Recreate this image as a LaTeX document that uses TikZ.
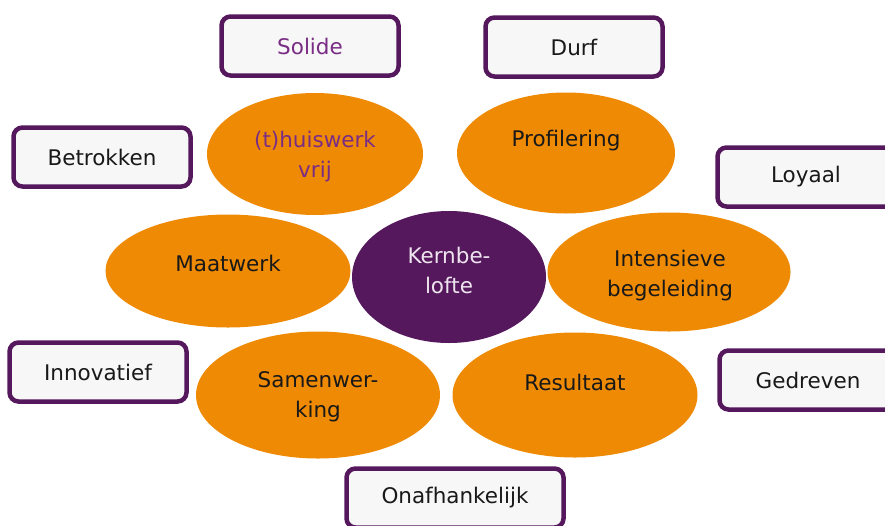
\documentclass[tikz,border=0pt]{standalone}
\usepackage{fontspec}
\setmainfont{DejaVu Sans}
\usetikzlibrary{shapes.geometric}
\definecolor{kernpaars}{HTML}{55185D}
\definecolor{tekstpaars}{HTML}{7A2D85}
\definecolor{oranje}{HTML}{EF8A04}
\definecolor{boxgrijs}{HTML}{F7F7F7}
\definecolor{lichttekst}{HTML}{EEE4EE}
\tikzset{
  waarde/.style={draw=kernpaars, line width=4.5pt, rounded corners=9pt, fill=boxgrijs,
    minimum width=177pt, minimum height=59pt, inner sep=0pt,
    font=\fontsize{21.5}{30}\selectfont, text=black!90},
  blad/.style={ellipse, fill=oranje, inner sep=0pt},
  bladtekst/.style={align=center, inner sep=0pt,
    font=\fontsize{21.5}{30}\selectfont, text=black!90},
}
\begin{document}
\begin{tikzpicture}[x=1pt,y=-1pt]
    \useasboundingbox (0,0) rectangle (885,525);
    \clip (0,0) rectangle (885,525);

    % bladeren
    \node[blad, minimum width=216pt, minimum height=122pt] (huiswerk) at (315,154) {};
    \node[blad, minimum width=218pt, minimum height=121pt] (profilering) at (566,153) {};
    \node[blad, minimum width=245pt, minimum height=113pt] (maatwerk) at (228,271) {};
    \node[blad, minimum width=243pt, minimum height=119pt] (begeleiding) at (669,272) {};
    \node[blad, minimum width=244pt, minimum height=127pt] (samenwerking) at (318,395) {};
    \node[blad, minimum width=245pt, minimum height=125pt] (resultaat) at (575,395) {};
    \node[blad, fill=kernpaars, minimum width=194pt, minimum height=132pt] (kern) at (449,277) {};

    \node[bladtekst, text=tekstpaars] (huiswerk-t) at (315,157) {(t)huiswerk\\vrij};
    \node[bladtekst] (profilering-t) at (566,141) {Profilering};
    \node[bladtekst] (maatwerk-t) at (228,263) {Maatwerk};
    \node[bladtekst] (begeleiding-t) at (670,276) {Intensieve\\begeleiding};
    \node[bladtekst] (samenwerking-t) at (318,396.5) {Samenwer-\\king};
    \node[bladtekst] (resultaat-t) at (575,382) {Resultaat};
    \node[bladtekst, text=lichttekst] (kern-t) at (449,270) {Kernbe-\\lofte};

    % waarden
    \node[waarde, text=tekstpaars] (solide) at (310,46) {Solide};
    \node[waarde] (durf) at (574,47) {Durf};
    \node[waarde] (betrokken) at (102,157) {Betrokken};
    \node[waarde] (loyaal) at (806,177) {Loyaal};
    \node[waarde] (innovatief) at (98,372) {Innovatief};
    \node[waarde] (gedreven) at (808,380) {Gedreven};
    \node[waarde, minimum width=217pt] (onafhankelijk) at (455,498) {Onafhankelijk};
\end{tikzpicture}
\end{document}
